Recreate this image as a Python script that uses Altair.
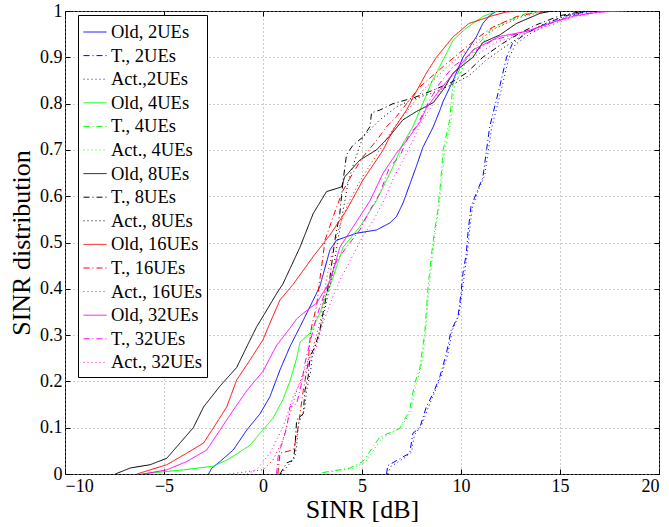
import altair as alt
import pandas as pd

# ---- data (x: SINR [dB], y: CDF) ----
old2_x = [-2.75, -2.6, -2.17, -1.5, -0.82, -0.15, 0.35, 0.86, 1.36, 1.87, 2.37, 2.87, 3.38, 3.72, 4.72, 5.73, 6.4, 6.74, 7.07, 7.41, 7.75, 8.07, 8.6, 8.93, 9.1, 9.6, 10.1, 10.77, 11.1, 11.45, 11.8]
old2_y = [0.0, 0.012, 0.027, 0.052, 0.095, 0.13, 0.167, 0.225, 0.275, 0.318, 0.361, 0.405, 0.484, 0.505, 0.52, 0.527, 0.542, 0.556, 0.585, 0.625, 0.665, 0.705, 0.75, 0.785, 0.805, 0.85, 0.9, 0.944, 0.973, 0.99, 1.0]

t2_x = [6.24, 6.3, 7.07, 7.41, 7.57, 7.92, 8.25, 8.6, 8.93, 9.26, 9.5, 9.85, 10.0, 10.1, 10.27, 10.35, 10.5, 10.77, 11.1, 11.45, 11.95, 12.3, 12.6, 13.3, 14.3, 15.3, 16.3, 17.0]
t2_y = [0.0, 0.018, 0.037, 0.045, 0.088, 0.10, 0.145, 0.175, 0.21, 0.26, 0.31, 0.34, 0.39, 0.434, 0.477, 0.52, 0.577, 0.606, 0.64, 0.75, 0.836, 0.90, 0.93, 0.952, 0.973, 0.99, 0.998, 1.0]

a2_x = [6.3, 6.45, 7.15, 7.5, 7.65, 8.0, 8.33, 8.68, 9.0, 9.33, 9.57, 9.9, 10.05, 10.17, 10.33, 10.42, 10.57, 10.85, 11.2, 11.55, 12.05, 12.4, 12.75, 13.45, 14.45, 15.45, 16.4, 17.1]
a2_y = [0.0, 0.016, 0.035, 0.047, 0.085, 0.104, 0.142, 0.178, 0.212, 0.258, 0.312, 0.343, 0.392, 0.43, 0.48, 0.522, 0.574, 0.61, 0.645, 0.748, 0.832, 0.897, 0.928, 0.95, 0.972, 0.99, 0.998, 1.0]

old4_x = [-6.2, -4.0, -2.5, -1.83, -1.16, -0.66, -0.15, 0.5, 1.0, 1.36, 1.7, 1.87, 2.37, 2.87, 3.21, 3.46, 4.05, 4.89, 5.73, 6.57, 7.07, 7.57, 8.15, 8.5, 8.93, 9.6, 10.27, 11.1, 11.8]
old4_y = [0.0, 0.009, 0.017, 0.03, 0.048, 0.062, 0.088, 0.12, 0.16, 0.2, 0.25, 0.285, 0.304, 0.347, 0.39, 0.415, 0.49, 0.534, 0.59, 0.664, 0.714, 0.75, 0.808, 0.845, 0.88, 0.937, 0.963, 0.988, 1.0]

t4_x = [3.0, 4.4, 5.05, 5.9, 6.9, 7.41, 7.66, 7.92, 8.07, 8.17, 8.32, 8.5, 8.67, 8.83, 8.95, 9.1, 9.43, 9.6, 10.0, 10.77, 11.6, 12.45, 13.3, 14.1]
t4_y = [0.003, 0.013, 0.027, 0.08, 0.098, 0.138, 0.196, 0.228, 0.275, 0.304, 0.397, 0.47, 0.527, 0.57, 0.62, 0.70, 0.765, 0.844, 0.88, 0.923, 0.965, 0.98, 0.995, 1.0]

a4_x = [3.1, 4.5, 5.15, 6.0, 6.95, 7.48, 7.72, 7.98, 8.12, 8.22, 8.38, 8.55, 8.72, 8.88, 9.0, 9.17, 9.5, 9.68, 10.1, 10.85, 11.7, 12.55, 13.4, 14.2]
a4_y = [0.003, 0.012, 0.025, 0.077, 0.1, 0.135, 0.192, 0.23, 0.272, 0.308, 0.4, 0.467, 0.53, 0.573, 0.62, 0.698, 0.762, 0.84, 0.878, 0.92, 0.962, 0.978, 0.994, 1.0]

old8_x = [-7.46, -6.7, -5.7, -4.86, -4.19, -3.52, -3.0, -2.17, -1.33, -0.82, -0.32, 0.19, 0.69, 1.0, 1.87, 2.54, 3.21, 3.97, 4.13, 4.89, 5.73, 6.4, 7.07, 7.75, 8.6, 9.1, 9.6, 10.6, 11.1, 11.95, 12.8, 14.0, 14.6]
old8_y = [0.0, 0.013, 0.02, 0.034, 0.067, 0.10, 0.145, 0.19, 0.23, 0.275, 0.318, 0.354, 0.39, 0.41, 0.49, 0.563, 0.61, 0.62, 0.642, 0.678, 0.70, 0.73, 0.765, 0.783, 0.802, 0.83, 0.866, 0.90, 0.932, 0.948, 0.973, 0.995, 1.0]

t8_x = [0.86, 1.2, 1.53, 1.61, 1.7, 2.03, 2.12, 2.28, 2.37, 2.62, 2.87, 3.03, 3.38, 3.63, 3.88, 4.05, 4.22, 4.54, 5.05, 5.4, 5.48, 5.9, 6.57, 7.57, 8.42, 9.43, 10.27, 11.1, 12.1, 12.96, 13.8, 15.0, 16.0, 16.8]
t8_y = [0.0, 0.024, 0.03, 0.055, 0.117, 0.13, 0.181, 0.21, 0.253, 0.275, 0.31, 0.347, 0.425, 0.505, 0.563, 0.635, 0.69, 0.71, 0.728, 0.75, 0.78, 0.786, 0.80, 0.812, 0.826, 0.844, 0.866, 0.90, 0.93, 0.952, 0.97, 0.99, 0.998, 1.0]

a8_x = [0.9, 1.3, 1.6, 1.7, 1.8, 2.1, 2.2, 2.4, 2.5, 2.75, 3.0, 3.2, 3.5, 3.8, 4.05, 4.3, 4.5, 5.05, 5.9, 6.74, 7.6, 8.5, 9.5, 10.4, 11.3, 12.3, 13.2, 14.0, 15.2, 16.2, 17.0]
a8_y = [0.0, 0.02, 0.035, 0.06, 0.11, 0.14, 0.18, 0.22, 0.26, 0.29, 0.33, 0.37, 0.43, 0.51, 0.57, 0.63, 0.66, 0.728, 0.765, 0.793, 0.81, 0.822, 0.84, 0.86, 0.895, 0.925, 0.95, 0.968, 0.99, 0.998, 1.0]

old16_x = [-6.37, -4.86, -3.85, -3.0, -2.5, -1.83, -1.33, -0.66, 0.0, 0.35, 0.86, 1.53, 2.54, 3.38, 4.22, 5.05, 5.73, 6.07, 6.57, 7.25, 7.6, 8.25, 8.76, 9.6, 10.4, 11.6, 12.3, 13.3]
old16_y = [0.0, 0.02, 0.045, 0.067, 0.10, 0.145, 0.203, 0.246, 0.29, 0.326, 0.376, 0.41, 0.47, 0.516, 0.57, 0.635, 0.678, 0.70, 0.743, 0.786, 0.815, 0.866, 0.90, 0.944, 0.973, 0.99, 0.998, 1.0]

t16_x = [0.75, 0.86, 1.53, 1.7, 1.87, 2.03, 2.28, 2.37, 2.45, 2.7, 2.87, 3.03, 3.13, 3.72, 4.05, 4.54, 5.05, 5.73, 6.24, 6.74, 7.25, 7.92, 9.1, 9.93, 10.9, 11.6, 12.8, 13.6, 14.3]
t16_y = [0.0, 0.045, 0.052, 0.08, 0.13, 0.18, 0.24, 0.29, 0.318, 0.361, 0.42, 0.47, 0.505, 0.577, 0.613, 0.65, 0.685, 0.72, 0.75, 0.772, 0.80, 0.836, 0.88, 0.91, 0.944, 0.965, 0.988, 0.995, 1.0]

a16_x = [-1.7, -1.0, 0.0, 0.5, 1.0, 1.36, 1.7, 2.03, 2.54, 2.9, 3.2, 3.5, 3.9, 4.3, 4.8, 5.3, 5.9, 6.4, 6.9, 7.4, 8.1, 9.2, 10.0, 11.0, 11.7, 12.9, 13.8, 14.5]
a16_y = [0.0, 0.004, 0.009, 0.03, 0.073, 0.13, 0.18, 0.218, 0.275, 0.33, 0.42, 0.48, 0.54, 0.585, 0.625, 0.66, 0.70, 0.735, 0.765, 0.79, 0.83, 0.875, 0.905, 0.94, 0.962, 0.986, 0.995, 1.0]

old32_x = [-6.05, -4.86, -3.85, -2.84, -2.17, -1.5, -0.82, 0.0, 0.69, 1.36, 1.7, 2.03, 2.7, 3.38, 3.88, 4.89, 5.4, 6.07, 6.74, 7.25, 7.92, 8.25, 8.93, 9.77, 10.6, 11.95, 13.3, 14.8, 15.8, 17.0, 18.3]
old32_y = [0.0, 0.009, 0.027, 0.052, 0.095, 0.138, 0.18, 0.222, 0.278, 0.315, 0.335, 0.347, 0.369, 0.415, 0.49, 0.556, 0.59, 0.65, 0.693, 0.72, 0.76, 0.79, 0.83, 0.873, 0.916, 0.945, 0.956, 0.978, 0.99, 0.998, 1.0]

t32_x = [0.69, 0.76, 0.86, 1.2, 1.36, 1.7, 1.95, 2.12, 2.37, 2.62, 2.87, 3.38, 3.72, 4.22, 4.89, 5.4, 5.9, 6.4, 6.9, 7.41, 7.75, 8.42, 8.93, 9.6, 10.6, 11.6, 12.96, 14.5, 15.6, 17.0, 17.8]
t32_y = [0.0, 0.037, 0.052, 0.10, 0.145, 0.152, 0.196, 0.24, 0.283, 0.326, 0.361, 0.42, 0.46, 0.49, 0.527, 0.57, 0.606, 0.664, 0.685, 0.736, 0.75, 0.808, 0.844, 0.88, 0.91, 0.937, 0.952, 0.973, 0.99, 0.998, 1.0]

a32_x = [-0.8, -0.3, 0.35, 1.0, 1.53, 2.03, 2.7, 3.03, 3.5, 3.9, 4.39, 5.0, 5.6, 6.1, 6.6, 7.1, 7.57, 8.0, 8.6, 9.1, 9.8, 10.8, 11.8, 13.1, 14.6, 15.7, 17.1, 17.9]
a32_y = [0.0, 0.01, 0.045, 0.10, 0.167, 0.21, 0.275, 0.326, 0.38, 0.42, 0.46, 0.51, 0.55, 0.59, 0.64, 0.68, 0.72, 0.76, 0.80, 0.838, 0.875, 0.905, 0.933, 0.95, 0.97, 0.988, 0.998, 1.0]

series_names = ["Old, 2UEs", "T., 2UEs", "Act.,2UEs",
                "Old, 4UEs", "T., 4UEs", "Act., 4UEs",
                "Old, 8UEs", "T., 8UEs", "Act., 8UEs",
                "Old, 16UEs", "T., 16UEs", "Act., 16UEs",
                "Old, 32UEs", "T., 32UEs", "Act., 32UEs"]
series_xy = [(old2_x, old2_y), (t2_x, t2_y), (a2_x, a2_y),
             (old4_x, old4_y), (t4_x, t4_y), (a4_x, a4_y),
             (old8_x, old8_y), (t8_x, t8_y), (a8_x, a8_y),
             (old16_x, old16_y), (t16_x, t16_y), (a16_x, a16_y),
             (old32_x, old32_y), (t32_x, t32_y), (a32_x, a32_y)]

group_colors = ["#0000ff", "#00ff00", "#000000", "#ff0000", "#ff00ff"]
style_dashes = [[1, 0], [6, 3, 1, 3], [1, 3]]

colors = [c for c in group_colors for _ in range(3)]
dashes = [d for _ in group_colors for d in style_dashes]

rows = []
for name, (xs, ys) in zip(series_names, series_xy):
    for i, (xv, yv) in enumerate(zip(xs, ys)):
        rows.append({"series": name, "x": xv, "y": yv, "i": i})
df = pd.DataFrame(rows)

FONT = "Liberation Serif"

legend_kw = dict(title=None, orient="none", legendX=13, legendY=4)

x_vals = [-10, -5, 0, 5, 10, 15, 20]
y_vals = [0, 0.1, 0.2, 0.3, 0.4, 0.5, 0.6, 0.7, 0.8, 0.9, 1.0]

lines = alt.Chart(df).mark_line(strokeWidth=1, clip=True).encode(
    x=alt.X("x:Q", scale=alt.Scale(domain=[-10, 20], nice=False),
            axis=alt.Axis(values=x_vals, format="d",
                          title="SINR [dB]", offset=-5, tickSize=5, domain=False,
                          labelPadding=3, titlePadding=1,
                          grid=True, gridDash=[1, 3], gridColor="#999999", gridWidth=1)),
    y=alt.Y("y:Q", scale=alt.Scale(domain=[0, 1], nice=False),
            axis=alt.Axis(values=y_vals,
                          format=".1~f", title="SINR distribution", offset=-5, tickSize=5,
                          domain=False, labelPadding=3, titlePadding=5,
                          grid=True, gridDash=[1, 3], gridColor="#999999", gridWidth=1)),
    color=alt.Color("series:N", scale=alt.Scale(domain=series_names, range=colors),
                    legend=alt.Legend(**legend_kw)),
    strokeDash=alt.StrokeDash("series:N", scale=alt.Scale(domain=series_names, range=dashes),
                              legend=alt.Legend(**legend_kw)),
    order="i:Q",
)

frame_ticks = alt.Chart(df).mark_point(opacity=0).encode(
    x=alt.X("x:Q", scale=alt.Scale(domain=[-10, 20], nice=False),
            axis=alt.Axis(orient="top", values=x_vals, labels=False,
                          title=None, offset=-5, tickSize=5, domain=False, grid=False)),
    y=alt.Y("y:Q", scale=alt.Scale(domain=[0, 1], nice=False),
            axis=alt.Axis(orient="right", values=y_vals,
                          labels=False, title=None, offset=-5, tickSize=5, domain=False, grid=False)),
)

chart = alt.layer(lines, frame_ticks).resolve_axis(x="independent", y="independent").properties(
    width=594, height=463, autosize=alt.AutoSizeParams(type="none"),
    padding={"left": 65, "top": 11, "right": 10, "bottom": 53},
    background="white",
).configure_view(stroke="black", strokeWidth=1).configure_axis(
    labelFont=FONT, labelFontSize=18, labelColor="black", tickColor="black",
    titleFont=FONT, titleFontSize=26, titleFontWeight="normal", titleColor="black",
    gridOpacity=1,
).configure_legend(
    symbolType="stroke", symbolSize=529, symbolStrokeWidth=1,
    labelFont=FONT, labelFontSize=18.5, labelColor="black",
    labelLimit=300, labelOffset=4, rowPadding=1.6,
    padding=5, strokeColor="black", fillColor="white", cornerRadius=0,
)

chart.save("out.html", embed_options={"renderer": "svg", "actions": False})
